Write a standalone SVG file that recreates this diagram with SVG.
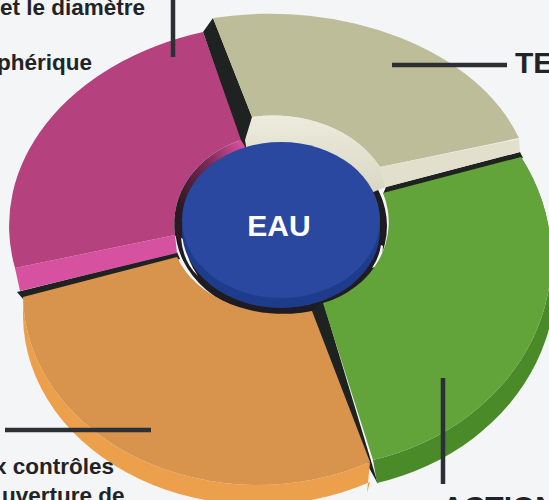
<svg xmlns="http://www.w3.org/2000/svg" width="549" height="500" viewBox="0 0 549 500">
<defs>
<style>
.lbl{font-family:"Liberation Sans",Arial,sans-serif;font-weight:bold;fill:#222326;}
.lead{stroke:#2c2f33;stroke-width:4.5;fill:none;}
.gap{fill:#1e2220;}
</style>
<linearGradient id="pinkWall" x1="0.9" y1="0" x2="0.2" y2="0.7">
<stop offset="0" stop-color="#d4519c"/>
<stop offset="0.45" stop-color="#7a2a58"/>
<stop offset="1" stop-color="#2a1a24"/>
</linearGradient>
<linearGradient id="creamWall" x1="0" y1="0" x2="0" y2="1">
<stop offset="0" stop-color="#ecebdd"/>
<stop offset="1" stop-color="#d6d4c0"/>
</linearGradient>
</defs>
<rect width="549" height="500" fill="#f4f5f6"/>

<!-- hole -->
<ellipse cx="281" cy="226" rx="106" ry="90" fill="#1e1c20"/>

<!-- gaps -->
<polygon class="gap" points="203,32 213,18 252,117 252,145 241,145"/>
<polygon class="gap" points="386,187 520,152 523,158 383,194"/>
<polygon class="gap" points="311,311 323,301 378,484 368,466"/>
<polygon class="gap" points="17,292 177,252 180,259 23,299"/>

<g id="node-beige">
<path d="M213,18 A262 180 0 0 1 519,138 L380,167 A120 95 0 0 0 252,117 Z" fill="#bebd99"/>
<path d="M380,167 L519,139 L520,152 L386,187 Z" fill="#e2e0cd"/>
<path d="M252,117 A120 95 0 0 1 380,167 L386,187 L340,205 L250,170 L245,140 Z" fill="url(#creamWall)"/>
</g>

<g id="node-pink">
<path d="M15,268 L175,235 L177,253 L20,291 Z" fill="#d652a0"/>
<path d="M203,32 A270 202 0 0 0 15,268 L175,235 A105 90 0 0 1 241,140 Z" fill="#b5427e"/>
<path d="M175,235 A105 90 0 0 1 241,140 L247,150 A100 85 0 0 0 188,255 Z" fill="url(#pinkWall)"/>
</g>

<path d="M181,238 Q183,262 198,276 L193,268 Q186,256 186,240 Z" fill="#f4f5f6"/>
<path d="M381,245 Q379,258 372,268 L377,266 Q383,256 383,246 Z" fill="#f4f5f6"/>

<g id="node-eau">
<ellipse cx="281" cy="230" rx="99" ry="78" fill="#1f3c8c"/>
<ellipse cx="281" cy="220" rx="99" ry="78" fill="#2a48a0"/>
<text x="279" y="236" text-anchor="middle" font-family="Liberation Sans, Arial, sans-serif" font-weight="bold" font-size="30" fill="#ffffff">EAU</text>
</g>

<g id="node-orange">
<path d="M370,462 A235 190 0 0 1 23,297 L23,317 A235 190 0 0 0 370,482 L367,493 Z" fill="#eca04c"/>
<path d="M23,297 L177,257 A112 84 0 0 0 312,311 L370,462 A235 190 0 0 1 23,297 Z" fill="#d8944c"/>
</g>

<g id="node-green">
<path d="M521,157 A242 209 0 0 1 373,460 L377,483 A242 209 0 0 0 525,180 Z" fill="#4b8a29"/>
<path d="M383,193 L521,157 A242 209 0 0 1 373,460 L323,303 A95 85 0 0 0 383,193 Z" fill="#62a43a"/>
</g>

<g id="connectors">
<line class="lead" x1="173" y1="0" x2="173" y2="57"/>
<line class="lead" x1="392" y1="65" x2="507" y2="65"/>
<line class="lead" x1="5" y1="430" x2="151" y2="430"/>
<line class="lead" x1="443" y1="378" x2="443" y2="484"/>
</g>

<g id="labels">
<text class="lbl" x="0" y="15" font-size="22.5">et le diamètre</text>
<text class="lbl" x="-3" y="70" font-size="22.5">phérique</text>
<text class="lbl" x="515" y="73" font-size="30">TE</text>
<text class="lbl" x="-6" y="474" font-size="22.5">x contrôles</text>
<text class="lbl" x="2" y="503" font-size="22.5">uverture de</text>
<text class="lbl" x="442" y="517" font-size="30">ACTION</text>
</g>
</svg>
